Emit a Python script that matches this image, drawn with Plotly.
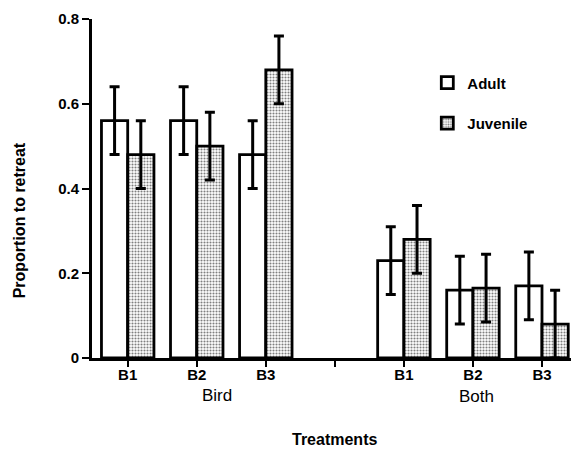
import plotly.graph_objects as go

groups = ["Bird", "Both"]
treatments = ["B1", "B2", "B3"]
adult = [0.56, 0.56, 0.48, 0.23, 0.16, 0.17]
adult_err = [0.08, 0.08, 0.08, 0.08, 0.08, 0.08]
juvenile = [0.48, 0.50, 0.68, 0.28, 0.165, 0.08]
juvenile_err = [0.08, 0.08, 0.08, 0.08, 0.08, 0.08]

# numeric positions: 3 treatments per group, one empty slot between groups
pos = []
for gi, g in enumerate(groups):
    for ti, t in enumerate(treatments):
        pos.append(gi * 4 + ti + 1)
tickvals = list(range(1, 8))
ticktext = ["B1", "B2", "B3", "", "B1", "B2", "B3"]

FONT = "Liberation Sans, Arial, sans-serif"

fig = go.Figure()
fig.add_trace(go.Bar(
    x=pos, y=adult, name="Adult", legendgroup="a",
    marker=dict(color="white", line=dict(color="black", width=2.8)),
    error_y=dict(type="data", array=adult_err, color="black", thickness=3, width=5),
))
fig.add_trace(go.Bar(
    x=pos, y=juvenile, name="Juvenile", legendgroup="j",
    marker=dict(color="white", line=dict(color="black", width=2.8),
                pattern=dict(shape=".", fgcolor="black", bgcolor="white", size=3, solidity=0.4)),
    error_y=dict(type="data", array=juvenile_err, color="black", thickness=3, width=5),
))

fig.update_layout(
    width=572, height=449,
    margin=dict(l=92, r=1, t=19, b=91),
    paper_bgcolor="white", plot_bgcolor="white",
    barmode="group", bargap=0.24, bargroupgap=0,
    font=dict(family=FONT, color="black"),
    showlegend=True,
    legend=dict(x=0.70, y=0.86, xanchor="left", yanchor="top",
                font=dict(size=15, weight="bold"), tracegroupgap=18,
                bgcolor="rgba(0,0,0,0)"),
    xaxis=dict(range=[0.483, 7.42], tickmode="array", tickvals=tickvals, ticktext=ticktext,
               showline=True, linecolor="black", linewidth=3, ticks="outside", ticklen=6,
               tickwidth=1.5, tickcolor="black", showgrid=False, zeroline=False,
               ticklabelstandoff=-5,
               tickfont=dict(size=15, weight="bold")),
    yaxis=dict(range=[0, 0.8], tickvals=[0, 0.2, 0.4, 0.6, 0.8],
               ticktext=["0", "0.2", "0.4", "0.6", "0.8"],
               showline=True, linecolor="black", linewidth=3, ticks="outside", ticklen=7,
               tickwidth=2, tickcolor="black", showgrid=False, zeroline=False,
               tickfont=dict(size=15, weight="bold")),
    annotations=[
        dict(text="Bird", x=2.29, xref="x", y=0, yref="paper", yshift=-37, showarrow=False,
             font=dict(size=17), xanchor="center", yanchor="middle"),
        dict(text="Both", x=6.05, xref="x", y=0, yref="paper", yshift=-38, showarrow=False,
             font=dict(size=17), xanchor="center", yanchor="middle"),
        dict(text="Treatments", x=0.507, xref="paper", y=0, yref="paper", yshift=-81,
             showarrow=False, font=dict(size=16, weight="bold"), xanchor="center", yanchor="middle"),
        dict(text="Proportion to retreat", x=(19 - 92) / (572 - 92 - 1), xref="paper",
             y=0.406, yref="paper",
             showarrow=False, textangle=-90, font=dict(size=16, weight="bold"),
             xanchor="center", yanchor="middle"),
    ],
)

fig.write_html("out.html")
